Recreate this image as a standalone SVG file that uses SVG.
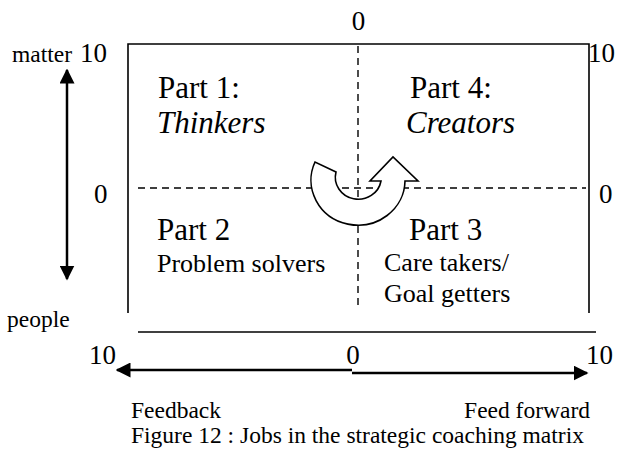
<svg xmlns="http://www.w3.org/2000/svg" width="622" height="459" viewBox="0 0 622 459" font-family="'Liberation Serif', 'Times New Roman', serif">
  <style>
    text { font-family: "Liberation Serif", "Times New Roman", serif; fill: #000; }
    .lbl { font-size: 23.5px; }
    .num { font-size: 27px; }
    .part { font-size: 31px; }
    .desc { font-size: 26px; }
    .it { font-style: italic; }
    .frame { fill: none; stroke: #000; stroke-width: 1.6; }
    .dash { fill: none; stroke: #000; stroke-width: 1.4; stroke-dasharray: 7 5; }
    .axis { fill: none; stroke: #000; stroke-width: 2.5; }
  </style>
  <defs>
    <marker id="head" viewBox="0 0 10 10" refX="9" refY="5" markerWidth="6" markerHeight="6" markerUnits="strokeWidth" orient="auto-start-reverse">
      <path d="M0,0 L10,5 L0,10 Z" fill="#000"/>
    </marker>
  </defs>
  <rect width="622" height="459" fill="#fff"/>

  <!-- matrix frame, open at the bottom -->
  <g id="matrix">
    <path class="frame" d="M128,313 L128,44 L589,44 L589,313"/>
    <line class="frame" x1="138" y1="332" x2="596" y2="332"/>
    <line class="dash" x1="358" y1="46" x2="358" y2="310"/>
    <line class="dash" x1="138" y1="188" x2="586" y2="188"/>
  </g>

  <!-- scale labels -->
  <g id="scale">
    <text class="num" x="358.5" y="30" text-anchor="middle">0</text>
    <text class="lbl" x="12" y="62">matter</text>
    <text class="num" x="80" y="62">10</text>
    <text class="num" x="588" y="62">10</text>
    <text class="num" x="94" y="203">0</text>
    <text class="num" x="599" y="203">0</text>
    <text class="lbl" x="7" y="327">people</text>
    <text class="num" x="89" y="364">10</text>
    <text class="num" x="353" y="364" text-anchor="middle">0</text>
    <text class="num" x="586" y="364">10</text>
    <text class="lbl" x="131" y="418">Feedback</text>
    <text class="lbl" x="590" y="418" text-anchor="end">Feed forward</text>
    <text class="lbl" x="131" y="443">Figure 12 : Jobs in the strategic coaching matrix</text>
  </g>

  <g id="part1">
    <text class="part" x="158" y="98">Part 1:</text>
    <text class="part it" x="157" y="133" font-style="italic">Thinkers</text>
  </g>
  <g id="part4">
    <text class="part" x="410" y="98">Part 4:</text>
    <text class="part it" x="406" y="133" font-style="italic">Creators</text>
  </g>
  <g id="part2">
    <text class="part" x="157" y="240">Part 2</text>
    <text class="desc" x="157" y="272">Problem solvers</text>
  </g>
  <g id="part3">
    <text class="part" x="409" y="240">Part 3</text>
    <text class="desc" x="384" y="271">Care takers/</text>
    <text class="desc" x="384" y="302">Goal getters</text>
  </g>

  <!-- turning arrow in the centre -->
  <g id="cycle">
    <path d="M315,162 A47,45 0 1,0 405,181 L418,181 L393,157 L370,181 L381,181 A23,22 0 1,1 336,172 Z" fill="#fff" stroke="#000" stroke-width="1.6" stroke-linejoin="miter"/>
  </g>

  <!-- axes -->
  <g id="connectors">
    <line class="axis" x1="67" y1="174" x2="67" y2="70" marker-end="url(#head)"/>
    <line class="axis" x1="67" y1="174" x2="67" y2="279" marker-end="url(#head)"/>
    <polyline class="axis" points="352,370 117,370" marker-end="url(#head)"/>
    <polyline class="axis" points="352,373 587,373" marker-end="url(#head)"/>
  </g>
</svg>
